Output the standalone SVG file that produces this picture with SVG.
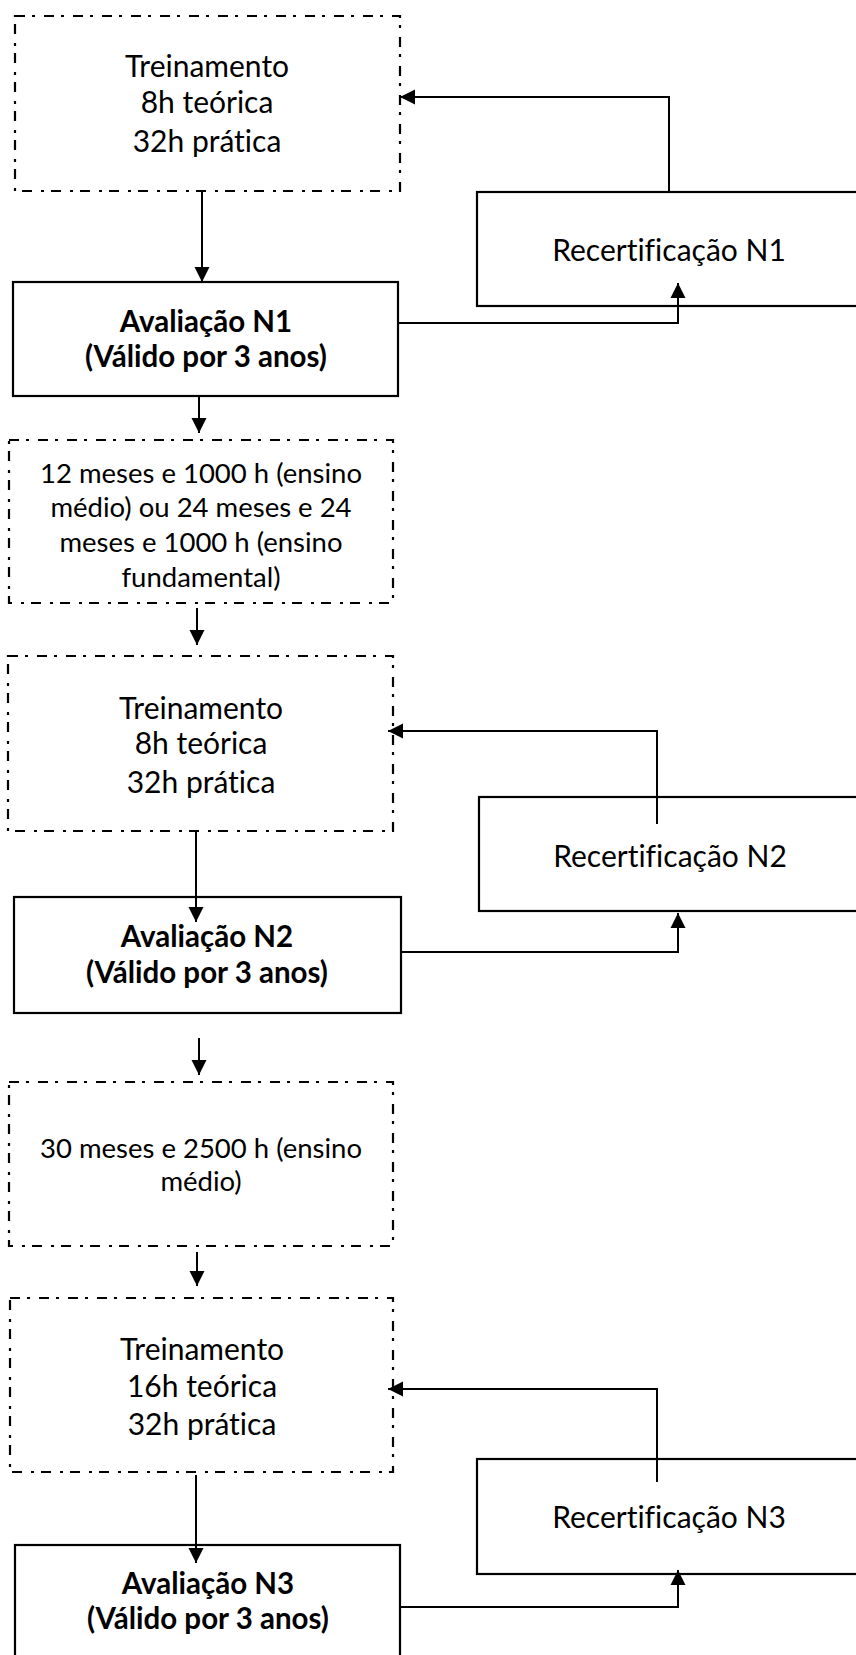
<svg xmlns="http://www.w3.org/2000/svg" width="856" height="1655" viewBox="0 0 856 1655">
<defs>
<marker id="ah" markerUnits="userSpaceOnUse" markerWidth="16" markerHeight="16" viewBox="0 0 16 16" refX="15" refY="8" orient="auto">
<path d="M0,0.5 L15,8 L0,15.5 Z" fill="#000"/>
</marker>
<style>
.dash{fill:#fff;stroke:#000;stroke-width:2.2;stroke-dasharray:10 7 3 9}
.solid{fill:#fff;stroke:#000;stroke-width:2.2}
.t{font-family:Lato,"Open Sans","Liberation Sans",sans-serif;font-size:30px;fill:#000;text-anchor:middle;font-variant-ligatures:none}
.s{font-size:27.5px}
.b{font-weight:bold;font-size:29.5px}
.c{fill:none;stroke:#000;stroke-width:2;marker-end:url(#ah)}
</style>
</defs>
<rect width="856" height="1655" fill="#fff"/>
<g id="treinamento1">
<rect class="dash" x="15" y="16" width="385" height="175"/>
<text class="t" x="207" y="77">Treinamento</text>
<text class="t" x="207" y="113">8h teórica</text>
<text class="t" x="207" y="152">32h prática</text>
</g>
<g id="recert1">
<rect class="solid" x="477" y="192" width="400" height="114"/>
<text class="t" x="669" y="261">Recertificação N1</text>
</g>
<g id="avaliacao1">
<rect class="solid" x="13" y="282" width="385" height="114"/>
<text class="t b" x="206" y="332">Avaliação N1</text>
<text class="t b" x="206" y="367">(Válido por 3 anos)</text>
</g>
<g id="requisito1">
<rect class="dash" x="9" y="440" width="384" height="163"/>
<text class="t s" x="201" y="483">12 meses e 1000 h (ensino</text>
<text class="t s" x="201" y="517">médio) ou 24 meses e 24</text>
<text class="t s" x="201" y="552">meses e 1000 h (ensino</text>
<text class="t s" x="201" y="587">fundamental)</text>
</g>
<g id="treinamento2">
<rect class="dash" x="8" y="656" width="385" height="175"/>
<text class="t" x="201" y="719">Treinamento</text>
<text class="t" x="201" y="754">8h teórica</text>
<text class="t" x="201" y="793">32h prática</text>
</g>
<g id="recert2">
<rect class="solid" x="479" y="797" width="400" height="114"/>
<text class="t" x="670" y="867">Recertificação N2</text>
</g>
<g id="avaliacao2">
<rect class="solid" x="14" y="897" width="387" height="116"/>
<text class="t b" x="207" y="947">Avaliação N2</text>
<text class="t b" x="207" y="983">(Válido por 3 anos)</text>
</g>
<g id="requisito2">
<rect class="dash" x="9" y="1082" width="384" height="164"/>
<text class="t s" x="201" y="1158">30 meses e 2500 h (ensino</text>
<text class="t s" x="201" y="1191">médio)</text>
</g>
<g id="treinamento3">
<rect class="dash" x="10" y="1298" width="383" height="174"/>
<text class="t" x="202" y="1360">Treinamento</text>
<text class="t" x="202" y="1397">16h teórica</text>
<text class="t" x="202" y="1435">32h prática</text>
</g>
<g id="recert3">
<rect class="solid" x="477" y="1459" width="400" height="115"/>
<text class="t" x="669" y="1528">Recertificação N3</text>
</g>
<g id="avaliacao3">
<rect class="solid" x="15" y="1545" width="385" height="130"/>
<text class="t b" x="208" y="1594">Avaliação N3</text>
<text class="t b" x="208" y="1629">(Válido por 3 anos)</text>
</g>
<g id="connectors">
<path class="c" d="M202,191 L202,282"/>
<path class="c" d="M398,323 L678,323 L678,283"/>
<path class="c" d="M669,192 L669,97 L400,97"/>
<path class="c" d="M199,396 L199,433"/>
<path class="c" d="M197,608 L197,645"/>
<path class="c" d="M196,831 L196,922"/>
<path class="c" d="M401,952 L678,952 L678,913"/>
<path class="c" d="M657,824 L657,731 L388,731"/>
<path class="c" d="M199,1038 L199,1075"/>
<path class="c" d="M197,1252 L197,1286"/>
<path class="c" d="M196,1475 L196,1563"/>
<path class="c" d="M400,1607 L678,1607 L678,1570"/>
<path class="c" d="M657,1482 L657,1389 L388,1389"/>
</g>
</svg>
